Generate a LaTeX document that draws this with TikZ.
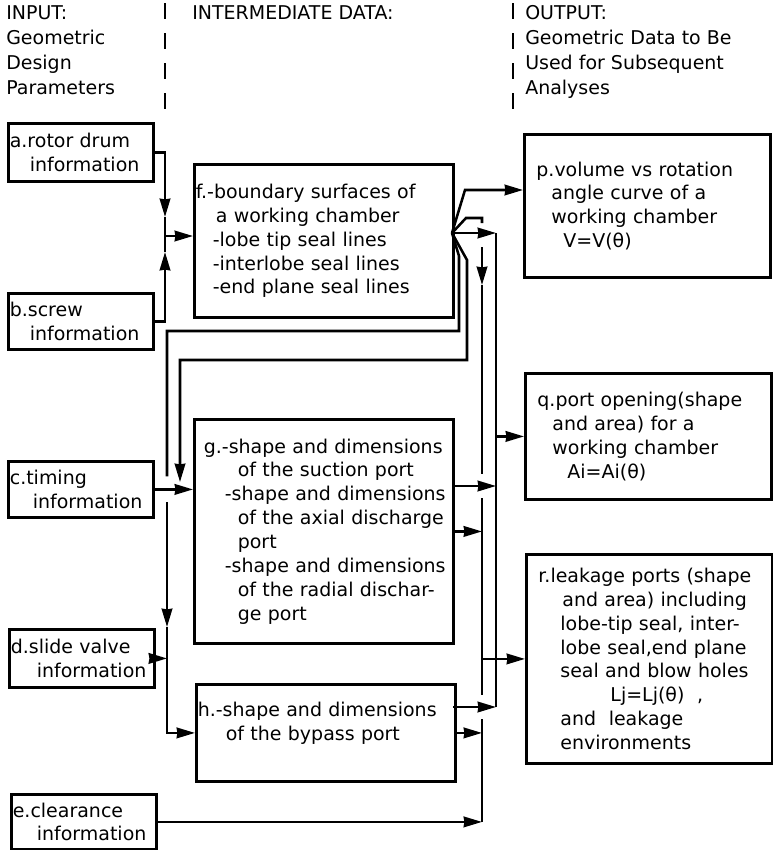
\documentclass[tikz,border=0pt]{standalone}
\usepackage{fontspec}
\setmainfont{DejaVu Sans}
\usetikzlibrary{arrows.meta,calc}

\begin{document}
\begin{tikzpicture}[x=0.025cm,y=-0.025cm,>={Stealth[length=13pt,width=7.5pt,inset=0.5pt]},
    font=\fontsize{13.5}{17}\selectfont]
  \tikzstyle{box}=[rectangle,draw,line width=2pt,anchor=north west,
                   align=left,inner ysep=0pt]
  \tikzstyle{in box}=[box,inner xsep=1pt,text width=3.55cm]
  \tikzstyle{mid box}=[box,inner xsep=1pt,text width=6.4cm]
  \tikzstyle{out box}=[box,inner xsep=0.3cm,text width=5.55cm]
  \tikzstyle{link}=[line width=1.8pt]
  \tikzstyle{header}=[anchor=north west,align=left,inner sep=0pt,
                      font=\fontsize{13.5}{17.8}\selectfont]
  \tikzstyle{divider}=[line width=1.5pt,dash pattern=on 0.4cm off 0.35cm]

  \useasboundingbox (0,0) rectangle (773,850);

  \node[header] (input) at (6,5) {INPUT:\\Geometric\\Design\\Parameters};
  \node[header] (inter) at (192,5) {INTERMEDIATE DATA:};
  \node[header] (output) at (525,5) {OUTPUT:\\Geometric Data to Be\\Used for Subsequent\\Analyses};
  \draw[divider] (165,3) -- (165,115);
  \draw[divider] (513,3) -- (513,115);

  \node[in box,minimum height=1.45cm] (a) at (7,122) {a.rotor drum\\ \hspace*{0.5cm}information};
  \node[in box,minimum height=1.4cm] (b) at (7,292) {b.screw\\ \hspace*{0.5cm}information};
  \node[in box,minimum height=1.4cm] (c) at (7,460) {c.timing\\ \hspace*{0.575cm}information};
  \node[in box,minimum height=1.45cm] (d) at (8,628) {d.slide valve\\ \hspace*{0.65cm}information};
  \node[in box,minimum height=1.375cm] (e) at (10,793) {e.clearance\\ \hspace*{0.6cm}information};

  \node[mid box,minimum height=3.825cm] (f) at (193,163)
    {f.-boundary surfaces of\\ \hspace*{0.5cm}a working chamber\\
     \hspace*{0.425cm}-lobe tip seal lines\\ \hspace*{0.425cm}-interlobe seal lines\\
     \hspace*{0.425cm}-end plane seal lines};
  \node[mid box,minimum height=5.6cm] (g) at (193,418)
    {\hspace*{0.2cm}g.-shape and dimensions\\ \hspace*{1.05cm}of the suction port\\
     \hspace*{0.725cm}-shape and dimensions\\ \hspace*{1.05cm}of the axial discharge\\
     \hspace*{1.05cm}port\\ \hspace*{0.725cm}-shape and dimensions\\
     \hspace*{1.05cm}of the radial dischar-\\ \hspace*{1.05cm}ge port};
  \node[mid box,minimum height=2.425cm] (h) at (195,683)
    {h.-shape and dimensions\\ \hspace*{0.7cm}of the bypass port\\ \mbox{}};

  \node[out box,minimum height=3.575cm] (p) at (523,133)
    {p.volume vs rotation\\ \hspace*{0.375cm}angle curve of a\\
     \hspace*{0.375cm}working chamber\\ \hspace*{0.675cm}V=V(θ)};
  \node[out box,minimum height=3.15cm] (q) at (524,372)
    {q.port opening(shape\\ \hspace*{0.375cm}and area) for a\\
     \hspace*{0.375cm}working chamber\\ \hspace*{0.75cm}Ai=Ai(θ)};
  \node[out box,minimum height=5.225cm] (r) at (525,553)
    {r.leakage ports (shape\\ \hspace*{0.6cm}and area) including\\
     \hspace*{0.55cm}lobe-tip seal, inter-\\ \hspace*{0.55cm}lobe seal,end plane\\
     \hspace*{0.55cm}seal and blow holes\\ \hspace*{1.8cm}Lj=Lj(θ)\ \ ,\\
     \hspace*{0.55cm}and\ \ leakage\\ \hspace*{0.55cm}environments};

  \coordinate (ja) at (165,217);
  \coordinate (jb) at (165,252);
  \coordinate (jab) at (165,236);
  \coordinate (fan) at (452,233);
  \coordinate (fp) at (465,190);
  \coordinate (fh) at (466,218);
  \coordinate (busA) at (482,223);
  \coordinate (busA top) at (482,247);
  \coordinate (busA arr) at (482,285);
  \coordinate (busB) at (496,233);
  \coordinate (fd1) at (459,256);
  \coordinate (fd2) at (459,331);
  \coordinate (fc1) at (467,260);
  \coordinate (fc2) at (467,360);
  \coordinate (darr) at (167,627);
  \coordinate (jc) at (180,482);
  \coordinate (gq) at (453,486);
  \coordinate (hq) at (453,707);

  \draw[link,->] (a.east) -| (ja);
  \draw[link,->] (b.east) -| (jb);
  \draw[link] (ja) -- (jb);
  \draw[link,->] (jab) -- (jab -| f.west);

  \draw[link,->] (fan) -- (fp) -- (fp -| p.west);
  \draw[link] (fan) -- (fh) -| (busA);
  \draw[link,->] (fan) -- (busB);
  \draw[link] (busB) -- (busB |- hq);
  \draw[link,->] (busB |- q.west) -- (q.west);

  \draw[link,->] (busA top) -- (busA arr);
  \draw[link] (busA arr) -- ($(busA |- gq)+(0,-12)$);
  \draw[link] ($(busA |- gq)+(0,12)$) -- ($(busA |- hq)+(0,-12)$);
  \draw[link] ($(busA |- hq)+(0,12)$) -- (busA |- e.east);
  \draw[link,->] (busA |- r.west) -- (r.west);

  \draw[link,->] (gq) -- (gq -| busB);
  \draw[link,->] (g.east) -- (g.east -| busA);
  \draw[link,->] (hq) -- (hq -| busB);
  \draw[link,->] (h.east) -- (h.east -| busA);
  \draw[link,->] (e.east) -- (e.east -| busA);

  \draw[link,->] (fan) -- (fc1) -- (fc2) -| (jc);
  \draw[link,->] (c.east) -- (c.east -| g.west);

  \draw[link] (fan) -- (fd1) -- (fd2) -| ($(darr |- c.east)+(0,-13)$);
  \draw[link,->] ($(darr |- c.east)+(0,13)$) -- (darr);
  \draw[link,->] (darr) |- (h.west);
  \draw[link,->] (d.east) -- (d.east -| darr);
\end{tikzpicture}
\end{document}
